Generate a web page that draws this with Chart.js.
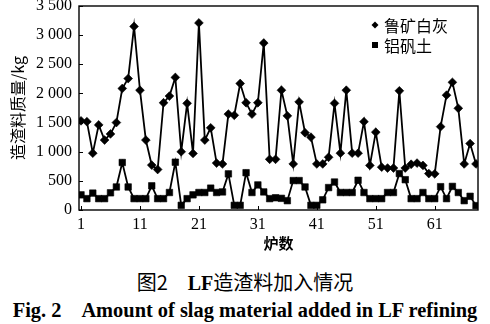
<!DOCTYPE html>
<html>
<head>
<meta charset="utf-8">
<script src="https://cdn.jsdelivr.net/npm/chart.js@4.4.0/dist/chart.umd.min.js"></script>
<style>
  body { margin: 0; background: #fff; }
  #wrap { position: relative; width: 490px; height: 324px; background: #fff; }
  #slagChart { position: absolute; left: 0; top: 0; }
  .cap { position: absolute; left: 0; width: 490px; text-align: center; color: #000; white-space: nowrap; }
  #cap1 { top: 270px; font: 20px "Noto Sans CJK SC"; line-height: 24px; }
  #cap1 b { font-family: "Liberation Serif"; }
  #cap2 { top: 298px; font: bold 20.4px "Liberation Serif"; line-height: 24px; }
</style>
</head>
<body>
<div id="wrap">
  <canvas id="slagChart" width="490" height="254"></canvas>
  <div class="cap" id="cap1">图2　<b>LF</b>造渣料加入情况</div>
  <div class="cap" id="cap2">Fig. 2　Amount of slag material added in LF refining</div>
</div>
<script>
// heat number (炉数)
const heats = [
  1, 2, 3, 4, 5, 6, 7, 8, 9, 10, 11, 12, 13, 14, 15, 16, 17,
  18, 19, 20, 21, 22, 23, 24, 25, 26, 27, 28, 29, 30, 31, 32, 33, 34,
  35, 36, 37, 38, 39, 40, 41, 42, 43, 44, 45, 46, 47, 48, 49, 50, 51,
  52, 53, 54, 55, 56, 57, 58, 59, 60, 61, 62, 63, 64, 65, 66, 67, 68
];

// 鲁矿白灰 per heat, kg
const limeKg = [
  1530, 1515, 975, 1460, 1200, 1305, 1500, 2085, 2255, 3150, 2055, 1200, 770, 695, 1840, 1955, 2275,
  1000, 1830, 970, 3210, 1200, 1410, 805, 790, 1645, 1625, 2170, 1840, 1645, 1840, 2865, 870, 870,
  2055, 1615, 790, 1855, 1325, 1250, 790, 790, 905, 1830, 975, 2055, 975, 975, 1515, 765, 1335,
  735, 720, 720, 2045, 720, 785, 805, 765, 625, 620, 1430, 1970, 2190, 1745, 790, 1140, 790
];

// 铝矾土 per heat, kg
const bauxiteKg = [
  260, 195, 290, 195, 195, 295, 395, 815, 395, 195, 195, 195, 415, 195, 195, 300, 820,
  80, 195, 260, 300, 300, 375, 300, 310, 620, 80, 80, 640, 300, 430, 310, 195, 210,
  200, 160, 505, 505, 395, 80, 80, 175, 385, 480, 300, 300, 300, 510, 300, 195, 195,
  195, 300, 300, 625, 520, 195, 195, 300, 195, 195, 400, 195, 405, 300, 160, 235, 75
];

const xTickValues = [1, 11, 21, 31, 41, 51, 61];
const yTickValues = [0, 500, 1000, 1500, 2000, 2500, 3000, 3500];
const yTickLabels = ['0', '500', '1 000', '1 500', '2 000', '2 500', '3 000', '3 500'];

const SERIF = '"Liberation Serif", "Times New Roman", serif';
const CJK = '"Noto Sans CJK SC", sans-serif';

// box round the plot plus short inward tick marks
const frameTicks = {
  id: 'frameTicks',
  afterDatasetsDraw(chart, args, opts) {
    const { ctx, chartArea: a } = chart;
    const xs = chart.scales.x, ys = chart.scales.y;
    ctx.save();
    ctx.strokeStyle = '#000';
    ctx.lineWidth = 1;
    ctx.beginPath();
    xs.ticks.forEach(t => {
      const px = Math.round(xs.getPixelForValue(t.value)) + 0.5;
      ctx.moveTo(px, a.bottom);
      ctx.lineTo(px, a.bottom - opts.len);
    });
    ys.ticks.forEach(t => {
      const py = Math.round(ys.getPixelForValue(t.value)) + 0.5;
      ctx.moveTo(a.left, py);
      ctx.lineTo(a.left + opts.len, py);
    });
    ctx.stroke();
    ctx.lineWidth = 1.4;
    ctx.strokeRect(a.left, a.top, a.right - a.left, a.bottom - a.top);
    ctx.restore();
  }
};

// legend drawn inside the plot, upper right
const innerLegend = {
  id: 'innerLegend',
  afterDraw(chart, args, opts) {
    const ctx = chart.ctx;
    ctx.save();
    ctx.font = '16px ' + CJK;
    ctx.textBaseline = 'middle';
    ctx.fillStyle = '#000';
    chart.data.datasets.forEach((ds, i) => {
      const x = opts.left;
      const y = opts.top + i * opts.rowGap;
      ctx.beginPath();
      if (ds.pointStyle === 'rectRot') {
        ctx.moveTo(x - 3.5, y);
        ctx.lineTo(x, y - 3.5);
        ctx.lineTo(x + 3.5, y);
        ctx.lineTo(x, y + 3.5);
        ctx.closePath();
      } else {
        ctx.rect(x - 3, y - 3, 6, 6);
      }
      ctx.fill();
      ctx.fillText(ds.label, x + 9, y + 1);
    });
    ctx.restore();
  }
};

new Chart(document.getElementById('slagChart'), {
  type: 'line',
  data: {
    labels: heats,
    datasets: [
      {
        label: '鲁矿白灰',
        data: limeKg,
        borderColor: '#000',
        backgroundColor: '#000',
        borderWidth: 1.8,
        pointStyle: 'rectRot',
        pointRadius: 4.4,
        pointBorderWidth: 0.6,
        tension: 0,
        fill: false
      },
      {
        label: '铝矾土',
        data: bauxiteKg,
        borderColor: '#000',
        backgroundColor: '#000',
        borderWidth: 1.8,
        pointStyle: 'rect',
        pointRadius: 4.6,
        pointBorderWidth: 0.6,
        tension: 0,
        fill: false
      }
    ]
  },
  options: {
    responsive: false,
    animation: false,
    layout: { padding: { top: 6, right: 12, left: 0, bottom: 0 } },
    plugins: {
      legend: { display: false },
      tooltip: { enabled: false },
      frameTicks: { len: 4 },
      innerLegend: { left: 375, top: 25, rowGap: 20 }
    },
    scales: {
      x: {
        type: 'linear',
        min: 0.66,
        max: 68.34,
        afterBuildTicks: s => { s.ticks = xTickValues.map(v => ({ value: v })); },
        afterFit: s => { s.height = 44; s.paddingLeft = 0; s.paddingRight = 0; },
        grid: { display: false, drawTicks: false },
        border: { display: false },
        ticks: {
          color: '#000',
          font: { family: SERIF, size: 16 },
          padding: 5,
          maxRotation: 0,
          autoSkip: false,
          callback: v => String(v)
        },
        title: {
          display: true,
          text: '炉数',
          color: '#000',
          font: { family: CJK, size: 15, weight: 'bold' },
          padding: { top: 0, bottom: 2 }
        }
      },
      y: {
        min: 0,
        max: 3500,
        afterBuildTicks: s => { s.ticks = yTickValues.map(v => ({ value: v })); },
        afterFit: s => { s.width = 79; s.paddingTop = 0; s.paddingBottom = 0; },
        grid: { display: false, drawTicks: false },
        border: { display: false },
        ticks: {
          color: '#000',
          font: { family: SERIF, size: 16 },
          padding: 7,
          callback: v => yTickLabels[yTickValues.indexOf(v)]
        },
        title: {
          display: true,
          text: '造渣料质量/kg',
          color: '#000',
          font: { family: CJK, size: 16 },
          padding: { top: 8, bottom: 0 }
        }
      }
    }
  },
  plugins: [frameTicks, innerLegend]
});
</script>
</body>
</html>
